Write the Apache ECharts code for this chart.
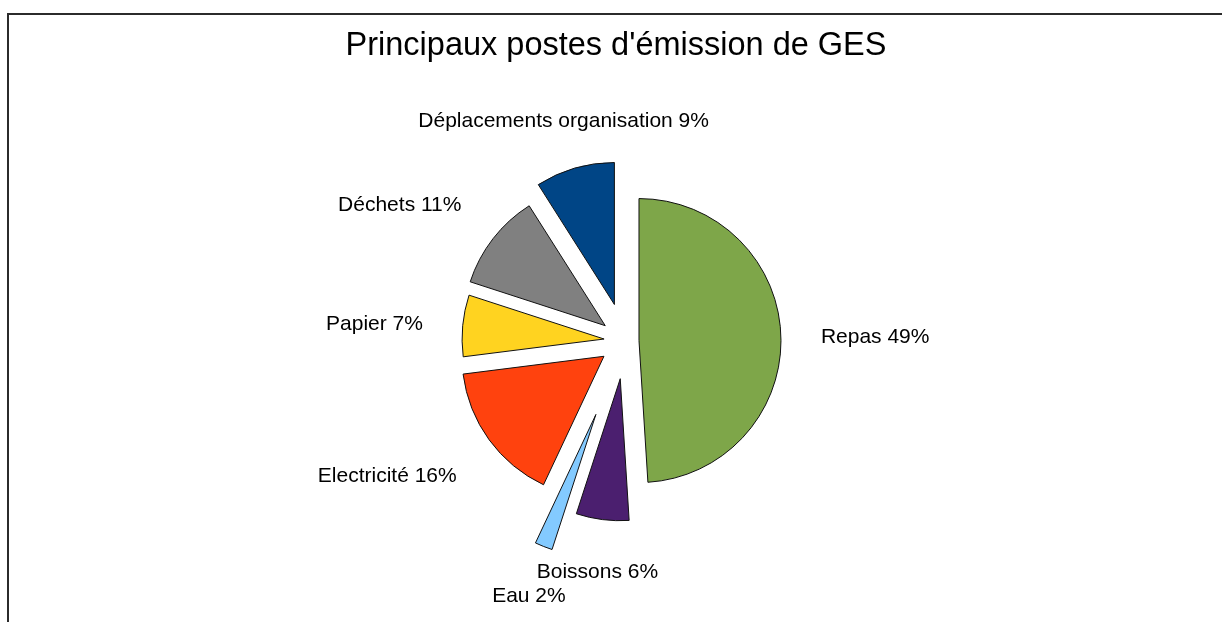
<!DOCTYPE html>
<html><head><meta charset="utf-8">
<script src="https://cdn.jsdelivr.net/npm/echarts@6/dist/echarts.min.js"></script>
<style>html,body{margin:0;padding:0;background:#fff}#c{width:1222px;height:622px}</style>
</head>
<body><div id="c"></div>
<script>
const titleText = "Principaux postes d'émission de GES";
const categories = ['Repas', 'Boissons', 'Eau', 'Electricité', 'Papier', 'Déchets', 'Déplacements organisation'];
const values = [49, 6, 2, 16, 7, 11, 9];
const colors = ['#7ea649', '#4b1f6f', '#83caff', '#ff420e', '#ffd320', '#808080', '#004586'];
const explodeOffsets = [14, 38, 79, 26, 21, 25, 38];

const CX = 625, CY = 341, R = 142, LABEL_PAD = 40, LABEL_DY = 2;
const FONT = '"Liberation Sans", Arial, sans-serif';

const total = values.reduce((a, b) => a + b, 0);
const mids = [];
let acc = 0;
values.forEach(v => { mids.push((acc + v / 2) / total * 2 * Math.PI); acc += v; });

// Data labels placed just outside each exploded slice, along its mid-angle
const labelGraphics = categories.map((name, i) => {
  const a = mids[i];
  const dx = Math.sin(a), dy = -Math.cos(a);
  const d = explodeOffsets[i] + R + LABEL_PAD;
  return {
    type: 'text',
    silent: true,
    z: 10,
    style: {
      x: CX + dx * d,
      y: CY + dy * d + LABEL_DY,
      text: name + ' ' + values[i] + '%',
      fill: '#000',
      font: '21px ' + FONT,
      textAlign: Math.abs(dx) < 0.4 ? 'center' : (dx > 0 ? 'left' : 'right'),
      textVerticalAlign: Math.abs(dy) < 0.4 ? 'middle' : (dy > 0 ? 'top' : 'bottom')
    }
  };
});

const series = categories.map((name, i) => ({
  type: 'pie',
  center: [CX, CY],
  radius: [0, R],
  startAngle: 90,
  clockwise: true,
  selectedMode: 'single',
  selectedOffset: explodeOffsets[i],
  avoidLabelOverlap: false,
  animation: false,
  emphasis: { disabled: true },
  label: { show: false },
  labelLine: { show: false },
  data: categories.map((n, j) => ({
    name: n,
    value: values[j],
    selected: j === i,
    itemStyle: j === i
      ? { color: colors[j], borderColor: '#111', borderWidth: 1 }
      : { color: 'rgba(0,0,0,0)', borderWidth: 0 }
  }))
}));

const chart = echarts.init(document.getElementById('c'), null, { renderer: 'canvas' });
chart.setOption({
  backgroundColor: '#fff',
  animation: false,
  title: {
    text: titleText,
    left: 611,
    top: 25,
    textAlign: 'center',
    textStyle: { color: '#000', fontSize: 32.5, fontWeight: 'normal', fontFamily: FONT }
  },
  graphic: [{
    type: 'rect',
    shape: { x: 8, y: 14, width: 1400, height: 800 },
    style: { fill: null, stroke: '#2b2b2b', lineWidth: 2 },
    silent: true
  }].concat(labelGraphics),
  series: series
});
</script>
</body></html>
